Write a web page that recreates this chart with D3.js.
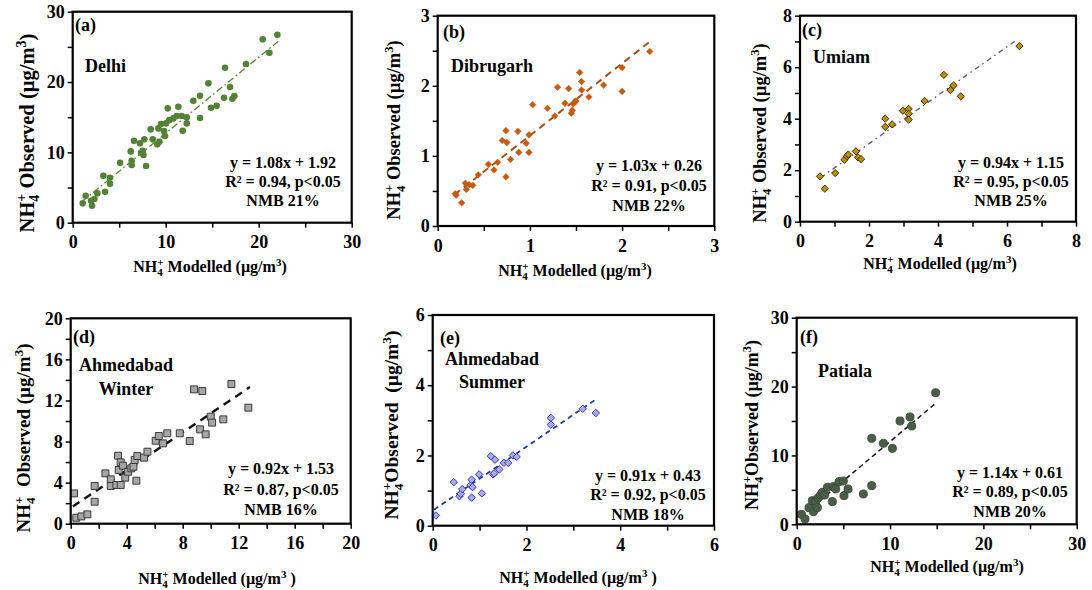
<!DOCTYPE html>
<html><head><meta charset="utf-8">
<script src="https://cdn.jsdelivr.net/npm/d3@7"></script>
<style>
body{margin:0;background:#fff}
svg{display:block}
text{font-family:"Liberation Serif","Times New Roman",serif;font-weight:bold;fill:#000;white-space:pre}
</style>
</head><body>
<svg id="chart" width="1092" height="590"></svg>
<script>
// ---------------- DATA ----------------
const delhiModelled = [1.08,1.40,1.97,2.33,2.08,2.65,3.30,3.48,4.01,4.01,5.09,6.24,6.34,6.34,6.59,7.24,7.35,7.53,7.60,7.71,7.89,8.39,8.60,9.10,9.21,9.32,9.50,9.82,9.93,10.04,10.22,10.39,10.82,11.18,11.36,11.72,11.83,12.26,12.26,12.97,13.69,13.69,14.59,14.87,15.48,16.27,16.38,16.92,17.17,17.38,18.64,20.43,21.15,22.01];
const delhiObserved = [2.75,3.84,3.13,3.36,2.42,4.17,6.68,4.41,6.40,5.55,8.53,10.14,8.82,8.20,11.66,11.28,9.95,10.24,9.62,11.85,8.06,13.27,11.85,11.14,13.41,11.52,14.03,13.03,12.32,14.12,16.26,14.60,14.83,15.17,16.49,15.17,13.08,14.98,14.12,17.35,18.06,14.88,19.81,16.35,16.64,17.77,22.04,19.29,17.63,18.01,22.56,26.07,24.17,26.73];

const dibrugarhModelled = [0.19,0.20,0.26,0.30,0.31,0.34,0.38,0.44,0.55,0.61,0.65,0.74,0.74,0.70,0.75,0.79,0.87,0.88,0.96,0.99,0.99,1.03,1.19,1.27,1.30,1.38,1.42,1.45,1.46,1.47,1.49,1.50,1.54,1.56,1.56,1.64,1.80,2.00,2.00,2.30];
const dibrugarhObserved = [0.46,0.44,0.33,0.61,0.52,0.59,0.58,0.73,0.88,0.80,0.91,0.70,1.36,1.22,1.19,0.95,1.35,1.05,1.18,1.30,1.05,1.73,1.68,1.57,1.98,1.75,1.96,1.61,1.65,1.74,1.78,1.78,2.19,2.06,1.94,1.84,2.01,2.26,1.92,2.49];

const umiamModelled = [0.58,0.72,1.02,1.29,1.36,1.40,1.62,1.68,1.77,2.47,2.47,2.67,2.98,3.15,3.15,3.15,3.61,4.17,4.36,4.45,4.66,6.36];
const umiamObserved = [1.76,1.28,1.89,2.41,2.54,2.61,2.73,2.50,2.43,4.00,3.68,3.78,4.31,4.38,4.19,3.96,4.69,5.70,5.11,5.29,4.87,6.82];

const ahmWinterModelled = [0.24,0.40,0.76,1.19,1.71,1.71,2.48,2.86,2.86,3.26,3.38,3.43,3.57,3.57,3.74,3.90,4.10,4.33,4.48,4.57,4.69,4.76,5.24,5.48,6.07,6.29,6.60,6.90,7.79,8.50,8.81,9.40,9.24,9.64,10.00,10.10,10.90,11.48,12.69];
const ahmWinterObserved = [2.95,0.58,0.71,0.91,3.67,2.14,4.90,4.32,3.67,3.77,6.62,5.23,5.97,3.77,5.65,4.48,5.06,5.39,5.55,6.20,4.19,6.59,6.43,7.01,8.08,8.54,7.82,8.80,8.80,8.05,13.08,12.92,9.19,8.70,10.42,9.84,10.16,13.60,11.30];

const ahmSummerModelled = [0.07,0.45,0.57,0.60,0.63,0.81,0.83,0.83,0.85,0.99,1.05,1.24,1.29,1.33,1.31,1.42,1.52,1.61,1.71,1.79,2.52,2.52,3.20,3.48];
const ahmSummerObserved = [0.29,1.24,0.84,0.91,1.04,1.15,1.31,0.80,1.10,1.46,0.92,1.98,1.46,1.88,1.49,1.60,1.79,1.79,2.00,1.96,3.07,2.88,3.33,3.21];

const patialaModelled = [0.50,0.89,1.32,1.68,1.79,2.04,2.21,2.32,2.57,2.75,3.00,3.29,3.82,3.93,4.18,4.54,5.00,5.07,5.50,7.14,8.04,8.04,9.29,10.25,11.07,12.14,12.32,14.89];
const patialaObserved = [1.45,0.77,2.42,3.43,1.84,3.29,2.42,3.87,4.26,4.64,4.26,5.37,3.29,5.47,5.13,6.19,6.29,4.16,5.13,4.40,5.61,12.48,11.76,11.03,15.00,15.58,14.27,19.11];

// regression fits
const fitSlopes     = [1.08, 1.03, 0.94, 0.92, 0.91, 1.14];
const fitIntercepts = [1.92, 0.26, 1.15, 1.53, 0.43, 0.61];
const fitRanges     = [[1.0,22.1],[0.18,2.3],[0.6,6.3],[0.15,12.8],[0.03,3.5],[0.4,14.8]];

const panelLetters = ["(a)","(b)","(c)","(d)","(e)","(f)"];
const siteNames = [["Delhi"],["Dibrugarh"],["Umiam"],["Ahmedabad","Winter"],["Ahmedabad","Summer"],["Patiala"]];
const eqLabels = ["y = 1.08x + 1.92","y = 1.03x + 0.26","y = 0.94x + 1.15","y = 0.92x + 1.53","y = 0.91x + 0.43","y = 1.14x + 0.61"];
const r2Labels = ["R² = 0.94, p<0.05","R² = 0.91, p<0.05","R² = 0.95, p<0.05","R² = 0.87, p<0.05","R² = 0.92, p<0.05","R² = 0.89, p<0.05"];
const nmbLabels = ["NMB 21%","NMB 22%","NMB 25%","NMB 16%","NMB 18%","NMB 20%"];

// axes: max, minor tick step, labelled tick step
const axisMax   = [30, 3, 8, 20, 6, 30];
const axisMinor = [5, 0.5, 1, 2, 1, 5];
const axisMajor = [10, 1, 2, 4, 2, 10];

const xTitleTails = [[" Modelled (µg/m", ")"],[" Modelled (µg/m", ")"],[" Modelled (µg/m", ")"],[" Modelled (µg/m", " )"],[" Modelled (µg/m", " )"],[" Modelled (µg/m", ")"]];
const yTitleTails = [[" Observed (µg/m", ")"],[" Observed (µg/m", ")"],[" Observed (µg/m", ")"],["  Observed (µg/m", ")"],["Observed  (µg/m", ")"],["Observed (µg/m", ")"]];

const seriesMod = [delhiModelled, dibrugarhModelled, umiamModelled, ahmWinterModelled, ahmSummerModelled, patialaModelled];
const seriesObs = [delhiObserved, dibrugarhObserved, umiamObserved, ahmWinterObserved, ahmSummerObserved, patialaObserved];

// ---------------- LAYOUT / STYLE ----------------
const layout = [
  {box:[72.7,11.7,351.7,222.7], letter:[75,31], name:[[85,72]], nameAnchor:"start", ann:[283,168,187,206], xt:[210,272], yt:[34,133], ytSize:20.5},
  {box:[437.7,15.7,714.3,226], letter:[443,38], name:[[451,72]], nameAnchor:"start", ann:[649,171,191,211], xt:[575,276], yt:[400,130], ytSize:18.5},
  {box:[800,15.7,1076,221.7], letter:[802,36], name:[[813,63]], nameAnchor:"start", ann:[1011,168,187,206], xt:[940,269], yt:[766,133], ytSize:18.5},
  {box:[70.7,318.3,350.7,523.7], letter:[73,343], name:[[126,371],[126,395]], nameAnchor:"middle", ann:[281,474,495,515], xt:[217,584], yt:[30,438], ytSize:19},
  {box:[432.7,315,714,525.7], letter:[440,344], name:[[492,365],[492,388]], nameAnchor:"middle", ann:[648,481,500,520], xt:[578,583], yt:[398,425], ytSize:19.5},
  {box:[796.7,317.7,1076.7,524.3], letter:[800,343], name:[[818,377]], nameAnchor:"start", ann:[1010,478,497,517], xt:[947,572], yt:[758,425], ytSize:18}
];

const diamond = {draw(ctx, size){ const r = Math.sqrt(size/2); ctx.moveTo(0,-r); ctx.lineTo(r,0); ctx.lineTo(0,r); ctx.lineTo(-r,0); ctx.closePath(); }};

const styles = [
  {sym:d3.symbolCircle, size:34, fill:"#548235", stroke:"none", sw:0, line:"#548235", dash:"7,3,1.5,3", lw:1.3},
  {sym:diamond, size:22, fill:"#c55a11", stroke:"#c55a11", sw:0.5, line:"#a5501c", dash:"7,5", lw:2},
  {sym:diamond, size:26, fill:"#bf9000", stroke:"#3b2c00", sw:1, line:"#595959", dash:"5,4,1.5,4", lw:1.3},
  {sym:d3.symbolSquare, size:48, fill:"#a6a6a6", stroke:"#3a3a3a", sw:1, line:"#111", dash:"8,6", lw:2.4},
  {sym:diamond, size:28, fill:"#a9a9f2", stroke:"#3c3ca0", sw:1, line:"#1f3f8c", dash:"5,4", lw:1.8},
  {sym:d3.symbolCircle, size:52, fill:"#4a5d49", stroke:"#34452f", sw:0.8, line:"#111", dash:"5,3.5", lw:1.5}
];

// ---------------- DRAW ----------------
const svg = d3.select("#chart");
svg.append("rect").attr("width",1092).attr("height",590).attr("fill","#fff");

function richTitle(x, y, rot, tail, size) {
  const s = size / 16;
  const t = svg.append("text")
    .attr("transform", `translate(${x},${y}) rotate(${rot})`)
    .attr("text-anchor","middle").attr("font-size",size);
  t.append("tspan").text("NH");
  t.append("tspan").attr("font-size",11*s).attr("dy",4*s).text("4");
  t.append("tspan").attr("font-size",11*s).attr("dx",-5.5*s).attr("dy",-10*s).text("+");
  t.append("tspan").attr("dy",6*s).text(tail[0]);
  t.append("tspan").attr("font-size",11*s).attr("dy",-6*s).text("3");
  t.append("tspan").attr("dy",6*s).text(tail[1]);
}

layout.forEach((L, i) => {
  const [x0,y0,x1,y1] = L.box;
  const x = d3.scaleLinear().domain([0, axisMax[i]]).range([x0, x1]);
  const y = d3.scaleLinear().domain([0, axisMax[i]]).range([y1, y0]);
  const ticks = d3.range(0, axisMax[i] + 1e-9, axisMinor[i]);
  const isMajor = v => Math.abs(v / axisMajor[i] - Math.round(v / axisMajor[i])) < 1e-6;
  const fmt = v => isMajor(v) ? d3.format("~g")(v) : "";

  const st = styles[i];
  const g = svg.append("g");

  // regression line
  const [fa, fb] = fitRanges[i];
  g.append("line")
    .attr("x1", x(fa)).attr("y1", y(fitSlopes[i]*fa + fitIntercepts[i]))
    .attr("x2", x(fb)).attr("y2", y(fitSlopes[i]*fb + fitIntercepts[i]))
    .attr("stroke", st.line).attr("stroke-width", st.lw).attr("stroke-dasharray", st.dash);

  // points
  const sym = d3.symbol().type(st.sym).size(st.size);
  g.selectAll("path.pt").data(seriesMod[i].map((m, k) => [m, seriesObs[i][k]])).join("path")
    .attr("class","pt")
    .attr("transform", d => `translate(${x(d[0])},${y(d[1])})`)
    .attr("d", sym())
    .attr("fill", st.fill).attr("stroke", st.stroke).attr("stroke-width", st.sw);

  // axes
  const ax = g.append("g").attr("transform", `translate(0,${y1})`)
    .call(d3.axisBottom(x).tickValues(ticks).tickFormat(fmt).tickSize(5).tickPadding(8));
  const ay = g.append("g").attr("transform", `translate(${x0},0)`)
    .call(d3.axisLeft(y).tickValues(ticks).tickFormat(fmt).tickSize(5).tickPadding(3));
  [ax, ay].forEach(a => {
    a.select(".domain").remove();
    a.selectAll(".tick line").attr("stroke","#000").attr("stroke-width",1.5);
    a.selectAll(".tick text").attr("font-size",18).attr("font-family","Liberation Serif").attr("font-weight","bold").attr("fill","#000");
  });

  // frame
  g.append("rect").attr("x", x0).attr("y", y0).attr("width", x1-x0).attr("height", y1-y0)
    .attr("fill","none").attr("stroke","#000").attr("stroke-width",2.2);

  // panel letter & site name
  g.append("text").attr("x", L.letter[0]).attr("y", L.letter[1]).attr("font-size",18).text(panelLetters[i]);
  siteNames[i].forEach((s, k) => {
    g.append("text").attr("x", L.name[k][0]).attr("y", L.name[k][1]).attr("font-size",18)
      .attr("text-anchor", L.nameAnchor).text(s);
  });

  // annotation
  [eqLabels[i], r2Labels[i], nmbLabels[i]].forEach((s, k) => {
    g.append("text").attr("x", L.ann[0]).attr("y", L.ann[k+1]).attr("font-size",16)
      .attr("text-anchor","middle").text(s);
  });

  // titles
  richTitle(L.xt[0], L.xt[1], 0, xTitleTails[i], 16);
  richTitle(L.yt[0], L.yt[1], -90, yTitleTails[i], L.ytSize);
});
</script>
</body></html>
